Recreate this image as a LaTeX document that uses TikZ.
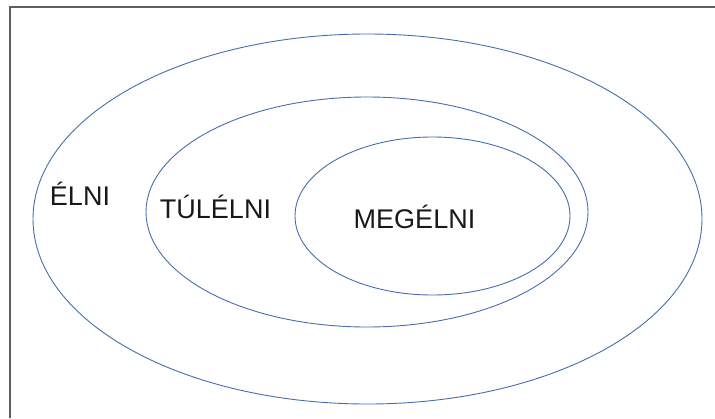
\documentclass[tikz,border=0pt]{standalone}
\usepackage{fontspec}
\setmainfont{Liberation Sans}
\usepackage{tikz}
\definecolor{setline}{RGB}{70,110,170}
\definecolor{frameline}{RGB}{95,95,95}

\begin{document}
\begin{tikzpicture}[x=1pt, y=-1pt,
        set/.style={draw=setline, line width=0.9pt},
        lbl/.style={anchor=base, inner sep=0pt, font=\fontsize{27}{30}\selectfont, text=black!90}]
        \useasboundingbox (0,0) rectangle (715,418);
        \draw[frameline, line width=1.3pt] (10,418) -- (10,7) -- (715,7);
        \draw[set] (367.5,219) ellipse (334.5 and 185);
        \draw[set] (367,212) ellipse (221 and 115);
        \draw[set] (432.5,216) ellipse (137.5 and 79);
        \node[lbl] (elni) at (80,205) {ÉLNI};
        \node[lbl] (tulelni) at (215.5,218) {TÚLÉLNI};
        \node[lbl] (megelni) at (414.5,228) {MEGÉLNI};
    \end{tikzpicture}
\end{document}
